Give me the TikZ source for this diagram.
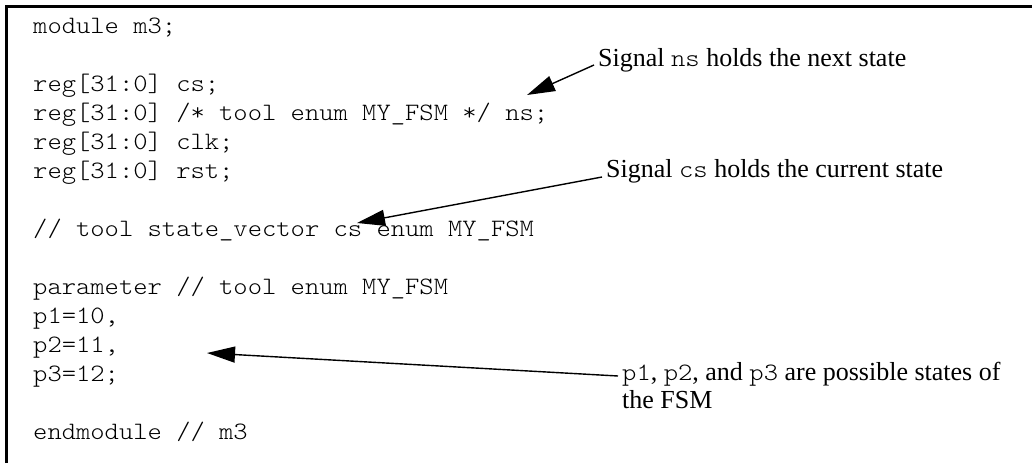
\documentclass[tikz,border=0pt]{standalone}
\usepackage{fontspec}
\setmainfont{Liberation Serif}
\setmonofont[FakeStretch=1.09]{Latin Modern Mono Light}
\usetikzlibrary{arrows.meta}

\newcommand{\codesize}{\fontsize{25}{29}\selectfont}
\newcommand{\notesize}{\fontsize{26}{28}\selectfont}
\newcommand{\sig}[1]{{\codesize\ttfamily #1}}

\begin{document}
\begin{tikzpicture}[x=1pt,y=-1pt]

    \tikzset{
      code/.style={
        anchor=base west,
        inner sep=0pt,
        font=\codesize\ttfamily,
      },
      note/.style={
        anchor=base west,
        inner sep=0pt,
        font=\notesize,
      },
      pointer/.style={
        line width=1.4pt,
        -{Triangle[length=28pt,width=16pt]},
      },
    }
    \useasboundingbox (0,0) rectangle (1032,463);

	% frame
	\draw[line width=3pt] (6,463) -- (6,6) -- (1032,6);

	% code lines
	\node[code] (lmodule) at (33,33) {module m3;};
	\node[code] (lcs) at (33,91) {reg[31:0] cs;};
	\node[code] (lns) at (33,120) {reg[31:0] /* tool enum MY\_FSM */ ns;};
	\node[code] (lclk) at (33,149) {reg[31:0] clk;};
	\node[code] (lrst) at (33,178) {reg[31:0] rst;};
	\node[code] (lvector) at (33,236) {// tool state\_vector cs enum MY\_FSM};
	\node[code] (lparam) at (33,294) {parameter // tool enum MY\_FSM};
	\node[code] (lpa) at (33,323) {p1=10,};
	\node[code] (lpb) at (33,352) {p2=11,};
	\node[code] (lpc) at (33,381) {p3=12;};
	\node[code] (lend) at (33,439) {endmodule // m3};

	% notes
	\node[note] (notens) at (598,66) {Signal \sig{ns} holds the next state};
	\node[note] (notecs) at (606,177) {Signal \sig{cs} holds the current state};
	\node[note] (notestates) at (622,380)
	  {\sig{p1}, \sig{p2}, and \sig{p3} are possible states of};
	\node[note] (notefsm) at (622,408) {the FSM};

	\coordinate (tipns) at (527,95);
	\coordinate (tipcs) at (357,223);
	\coordinate (tipstates) at (207,353);

	\draw[pointer] ([xshift=-4pt,yshift=1pt]notens.base west) -- (tipns);
	\draw[pointer] ([xshift=-4pt]notecs.base west) -- (tipcs);
	\draw[pointer] ([xshift=-4pt,yshift=4pt]notestates.base west) -- (tipstates);

\end{tikzpicture}
\end{document}
